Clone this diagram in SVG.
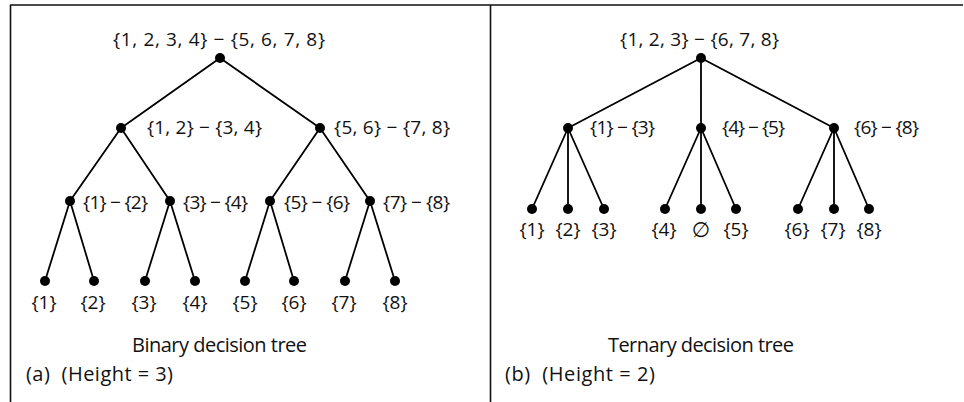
<svg xmlns="http://www.w3.org/2000/svg" width="964" height="402" viewBox="0 0 964 402">
<style>
  .frame { stroke: #111; stroke-width: 1.6; fill: none; }
  .edge { stroke: #000; stroke-width: 1.8; fill: none; stroke-linecap: round; }
  .dot { fill: #000; }
  text { font-family: "Open Sans", "DejaVu Sans", sans-serif; fill: #111; }
  .lbl { font-size: 19px; }
  .leaf { font-size: 19px; text-anchor: middle; }
  .empty { font-size: 21px; text-anchor: middle; }
  .cap { font-size: 20px; }
</style>
<rect width="964" height="402" fill="#fff"/>
<g id="frame">
  <path class="frame" d="M10,5 H963 M10.5,5 V402 M490.5,5 V402"/>
</g>
<g id="connectors">
  <path class="edge" d="M220,58 L121,128 M220,58 L320,128
    M121,128 L70,201 M121,128 L170,201 M320,128 L270,201 M320,128 L370,201
    M70,201 L45,281 M70,201 L94,281 M170,201 L145,281 M170,201 L195,281
    M270,201 L245,281 M270,201 L294,281 M370,201 L345,281 M370,201 L395,281"/>
  <path class="edge" d="M701,58 L568,128 M701,58 L701,128 M701,58 L834,128
    M568,128 L532,209 M568,128 L568,209 M568,128 L604,209
    M701,128 L665,209 M701,128 L701,209 M701,128 L736,209
    M834,128 L798,209 M834,128 L834,209 M834,128 L869,209"/>
</g>
<!-- Binary tree -->
<g id="b-root"><circle class="dot" cx="220" cy="58" r="5"/><text class="lbl" x="113" y="46" textLength="212">{1, 2, 3, 4} − {5, 6, 7, 8}</text></g>
<g id="b-l1a"><circle class="dot" cx="121" cy="128" r="5"/><text class="lbl" x="147" y="134" textLength="115">{1, 2} − {3, 4}</text></g>
<g id="b-l1b"><circle class="dot" cx="320" cy="128" r="5"/><text class="lbl" x="334" y="134" textLength="116">{5, 6} − {7, 8}</text></g>
<g id="b-l2a"><circle class="dot" cx="70" cy="201" r="5"/><text class="lbl" x="83" y="209" textLength="65">{1} − {2}</text></g>
<g id="b-l2b"><circle class="dot" cx="170" cy="201" r="5"/><text class="lbl" x="183" y="209" textLength="65">{3} − {4}</text></g>
<g id="b-l2c"><circle class="dot" cx="270" cy="201" r="5"/><text class="lbl" x="284" y="209" textLength="66">{5} − {6}</text></g>
<g id="b-l2d"><circle class="dot" cx="370" cy="201" r="5"/><text class="lbl" x="383" y="209" textLength="67">{7} − {8}</text></g>
<g id="b-leaf1"><circle class="dot" cx="45" cy="281" r="5"/><text class="leaf" x="44" y="309">{1}</text></g>
<g id="b-leaf2"><circle class="dot" cx="94" cy="281" r="5"/><text class="leaf" x="93" y="309">{2}</text></g>
<g id="b-leaf3"><circle class="dot" cx="145" cy="281" r="5"/><text class="leaf" x="144" y="309">{3}</text></g>
<g id="b-leaf4"><circle class="dot" cx="195" cy="281" r="5"/><text class="leaf" x="195" y="309">{4}</text></g>
<g id="b-leaf5"><circle class="dot" cx="245" cy="281" r="5"/><text class="leaf" x="245" y="309">{5}</text></g>
<g id="b-leaf6"><circle class="dot" cx="294" cy="281" r="5"/><text class="leaf" x="294" y="309">{6}</text></g>
<g id="b-leaf7"><circle class="dot" cx="345" cy="281" r="5"/><text class="leaf" x="344" y="309">{7}</text></g>
<g id="b-leaf8"><circle class="dot" cx="395" cy="281" r="5"/><text class="leaf" x="395" y="309">{8}</text></g>
<g id="b-caption">
  <text class="cap" x="132" y="352" textLength="175">Binary decision tree</text>
  <text class="cap" x="26" y="381" textLength="147" xml:space="preserve">(a)  (Height = 3)</text>
</g>
<!-- Ternary tree -->
<g id="t-root"><circle class="dot" cx="701" cy="58" r="5"/><text class="lbl" x="620" y="46" textLength="159">{1, 2, 3} − {6, 7, 8}</text></g>
<g id="t-l1a"><circle class="dot" cx="568" cy="128" r="5"/><text class="lbl" x="590" y="134" textLength="65">{1} − {3}</text></g>
<g id="t-l1b"><circle class="dot" cx="701" cy="128" r="5"/><text class="lbl" x="722" y="134" textLength="63">{4} − {5}</text></g>
<g id="t-l1c"><circle class="dot" cx="834" cy="128" r="5"/><text class="lbl" x="854" y="134" textLength="65">{6} − {8}</text></g>
<g id="t-leaf1"><circle class="dot" cx="532" cy="209" r="5"/><text class="leaf" x="532" y="236">{1}</text></g>
<g id="t-leaf2"><circle class="dot" cx="568" cy="209" r="5"/><text class="leaf" x="568" y="236">{2}</text></g>
<g id="t-leaf3"><circle class="dot" cx="604" cy="209" r="5"/><text class="leaf" x="604" y="236">{3}</text></g>
<g id="t-leaf4"><circle class="dot" cx="665" cy="209" r="5"/><text class="leaf" x="664" y="236">{4}</text></g>
<g id="t-leaf5"><circle class="dot" cx="701" cy="209" r="5"/><text class="empty" x="701" y="237">∅</text></g>
<g id="t-leaf6"><circle class="dot" cx="736" cy="209" r="5"/><text class="leaf" x="736" y="236">{5}</text></g>
<g id="t-leaf7"><circle class="dot" cx="798" cy="209" r="5"/><text class="leaf" x="797" y="236">{6}</text></g>
<g id="t-leaf8"><circle class="dot" cx="834" cy="209" r="5"/><text class="leaf" x="833" y="236">{7}</text></g>
<g id="t-leaf9"><circle class="dot" cx="869" cy="209" r="5"/><text class="leaf" x="869" y="236">{8}</text></g>
<g id="t-caption">
  <text class="cap" x="608" y="352" textLength="186">Ternary decision tree</text>
  <text class="cap" x="505" y="381" textLength="150" xml:space="preserve">(b)  (Height = 2)</text>
</g>
</svg>
